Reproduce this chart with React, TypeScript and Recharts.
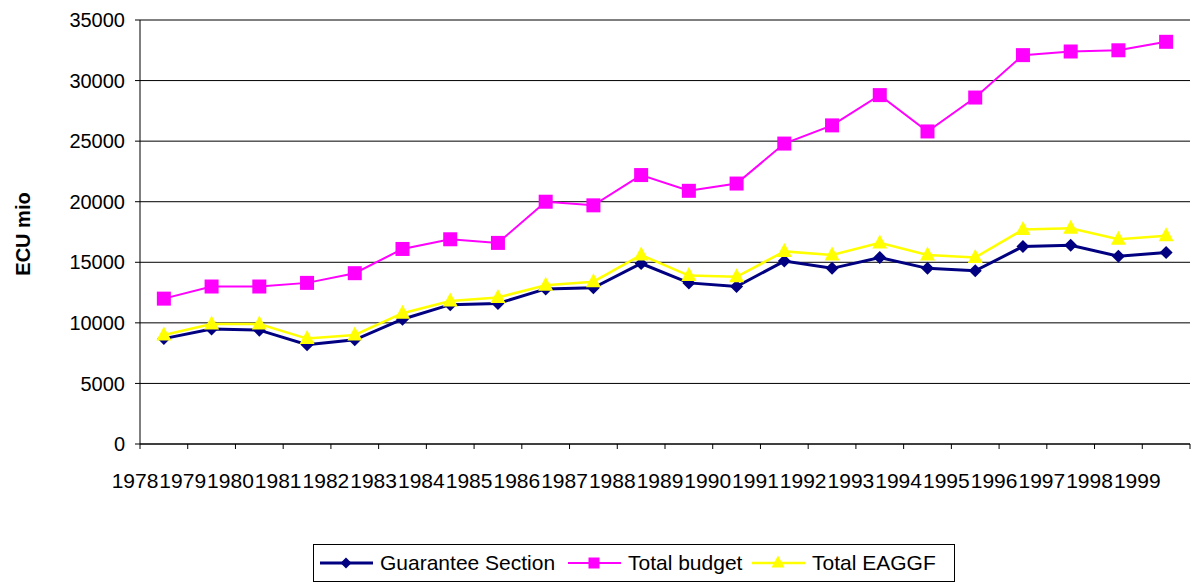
import {
  LineChart,
  Line,
  XAxis,
  YAxis,
  CartesianGrid,
  Legend,
} from "recharts";

const FONT = '"Liberation Sans", Arial, sans-serif';

const NAVY = "#000080";
const MAGENTA = "#FF00FF";
const YELLOW = "#FFFF00";

const years = [
  "1978", "1979", "1980", "1981", "1982", "1983", "1984", "1985", "1986", "1987", "1988",
  "1989", "1990", "1991", "1992", "1993", "1994", "1995", "1996", "1997", "1998", "1999",
];

const guaranteeSection = [
  8700, 9500, 9400, 8200, 8600, 10300, 11500, 11600, 12800, 12900, 14900,
  13300, 13000, 15100, 14500, 15400, 14500, 14300, 16300, 16400, 15500, 15800,
];

const totalBudget = [
  12000, 13000, 13000, 13300, 14100, 16100, 16900, 16600, 20000, 19700, 22200,
  20900, 21500, 24800, 26300, 28800, 25800, 28600, 32100, 32400, 32500, 33200,
];

const totalEaggf = [
  9000, 9900, 9900, 8700, 9000, 10800, 11800, 12100, 13100, 13400, 15600,
  13900, 13800, 15900, 15600, 16600, 15600, 15400, 17700, 17800, 16900, 17200,
];

const yTicks = [0, 5000, 10000, 15000, 20000, 25000, 30000, 35000];

const chartData = years.map((year, idx) => ({
  idx,
  year,
  guarantee: guaranteeSection[idx],
  budget: totalBudget[idx],
  eaggf: totalEaggf[idx],
}));

// Excel puts category ticks on the boundaries between years
const xTicks = [...years.map((_, i) => i - 0.5), years.length - 0.5];

const Diamond = ({ cx, cy, size = 6.5 }: { cx: number; cy: number; size?: number }) => (
  <polygon
    points={`${cx},${cy - size} ${cx + size},${cy} ${cx},${cy + size} ${cx - size},${cy}`}
    fill={NAVY}
  />
);

const Square = ({ cx, cy, size = 7 }: { cx: number; cy: number; size?: number }) => (
  <rect x={cx - size} y={cy - size} width={size * 2} height={size * 2} fill={MAGENTA} />
);

const Triangle = ({ cx, cy, size = 7.5 }: { cx: number; cy: number; size?: number }) => (
  <polygon
    points={`${cx},${cy - size - 1} ${cx + size},${cy + size - 2} ${cx - size},${cy + size - 2}`}
    fill={YELLOW}
  />
);

const XTick = ({ x, y, payload }: any) => {
  const label = years[Math.round(payload.value + 0.5)] ?? "";
  return (
    <text
      x={x - 5}
      y={y}
      dy="0.71em"
      textAnchor="middle"
      fill="#000"
      fontSize={21}
      fontFamily={FONT}
    >
      {label}
    </text>
  );
};

const legendItems = [
  { label: "Guarantee Section", color: NAVY, width: 3, marker: "diamond", x: 0 },
  { label: "Total budget", color: MAGENTA, width: 2, marker: "square", x: 248 },
  { label: "Total EAGGF", color: YELLOW, width: 2.5, marker: "triangle", x: 432 },
];

const LegendBox = () => (
  <svg width={642} height={38} style={{ display: "block" }}>
    <rect x={0.5} y={0.5} width={641} height={37} fill="#fff" stroke="#000" />
    {legendItems.map((item) => {
      const cx = item.x + 33;
      const cy = 19;
      return (
        <g key={item.label}>
          <line x1={item.x + 7} x2={item.x + 60} y1={cy} y2={cy} stroke={item.color} strokeWidth={item.width} />
          {item.marker === "diamond" && <Diamond cx={cx} cy={cy} size={5.5} />}
          {item.marker === "square" && <Square cx={cx} cy={cy} size={5.5} />}
          {item.marker === "triangle" && <Triangle cx={cx} cy={cy} size={6.5} />}
          <text x={item.x + 67} y={cy} dy="0.355em" fontSize={21} fontFamily={FONT} fill="#000">
            {item.label}
          </text>
        </g>
      );
    })}
  </svg>
);

export default function App() {
  return (
    <div style={{ position: "absolute", left: 0, top: 0, width: 1191, height: 584, background: "#fff" }}>
      <LineChart
        width={1191}
        height={584}
        data={chartData}
        margin={{ top: 20, right: 1, left: 0, bottom: 80 }}
        style={{ fontFamily: FONT }}
      >
        <CartesianGrid horizontal vertical={false} stroke="#000" strokeWidth={1} />
        <XAxis
          dataKey="idx"
          type="number"
          domain={[-0.5, years.length - 0.5]}
          ticks={xTicks}
          interval={0}
          axisLine={{ stroke: "#000", strokeWidth: 1 }}
          tickLine={{ stroke: "#000", strokeWidth: 1 }}
          tickSize={5}
          tickMargin={24}
          tick={<XTick />}
          height={60}
        />
        <YAxis
          domain={[0, 35000]}
          ticks={yTicks}
          interval={0}
          width={140}
          axisLine={{ stroke: "#000", strokeWidth: 1 }}
          tickLine={{ stroke: "#000", strokeWidth: 1 }}
          tickSize={5}
          tickMargin={10}
          tick={{ fill: "#000", fontSize: 20, fontFamily: FONT }}
          label={({ viewBox }: any) => (
            <text
              x={viewBox.x + 23}
              y={viewBox.y + viewBox.height / 2 + 2}
              transform={`rotate(-90, ${viewBox.x + 23}, ${viewBox.y + viewBox.height / 2 + 2})`}
              textAnchor="middle"
              dy="0.355em"
              fontSize={20}
              fontWeight="bold"
              fontFamily={FONT}
              fill="#000"
            >
              ECU mio
            </text>
          )}
        />
        <Legend
          layout="horizontal"
          verticalAlign="middle"
          align="center"
          wrapperStyle={{ position: "absolute", left: 313, top: 544, width: 642, height: 38 }}
          content={() => <LegendBox />}
        />
        <Line
          type="linear"
          dataKey="guarantee"
          name="Guarantee Section"
          stroke={NAVY}
          strokeWidth={3}
          dot={(p: any) => <Diamond key={`g-${p.index}`} cx={p.cx} cy={p.cy} />}
          activeDot={false}
          isAnimationActive={false}
        />
        <Line
          type="linear"
          dataKey="budget"
          name="Total budget"
          stroke={MAGENTA}
          strokeWidth={2}
          dot={(p: any) => <Square key={`b-${p.index}`} cx={p.cx} cy={p.cy} />}
          activeDot={false}
          isAnimationActive={false}
        />
        <Line
          type="linear"
          dataKey="eaggf"
          name="Total EAGGF"
          stroke={YELLOW}
          strokeWidth={2.5}
          dot={(p: any) => <Triangle key={`e-${p.index}`} cx={p.cx} cy={p.cy} />}
          activeDot={false}
          isAnimationActive={false}
        />
      </LineChart>
    </div>
  );
}
